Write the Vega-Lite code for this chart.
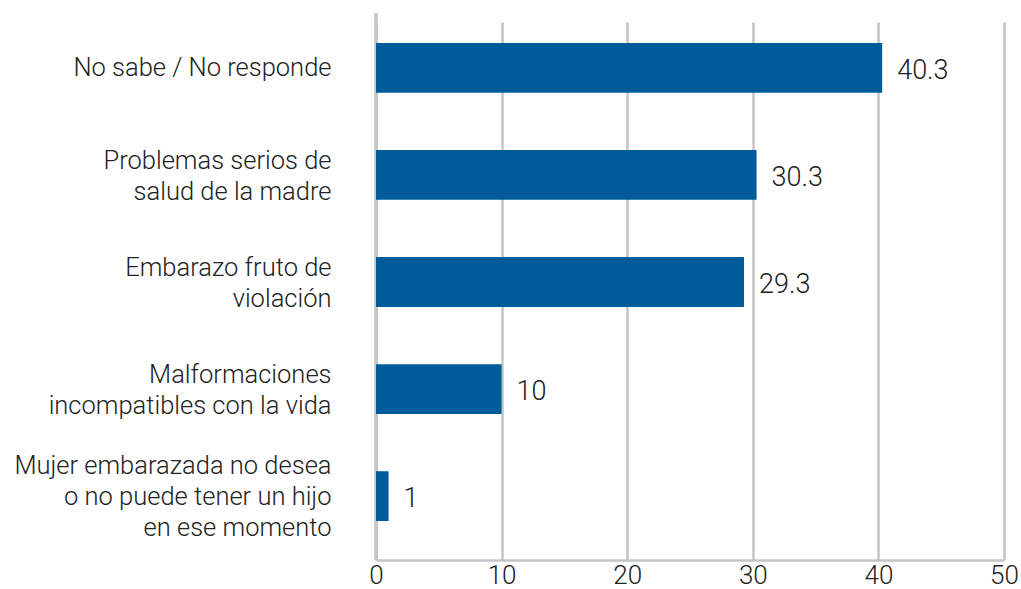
{
  "$schema": "https://vega.github.io/schema/vega-lite/v6.json",
  "autosize": "none",
  "width": 628,
  "height": 547,
  "padding": {"left": 376, "top": 13, "right": 17, "bottom": 29},
  "background": "white",
  "config": {
    "view": {"stroke": null},
    "font": "Roboto",
    "text": {"font": "Roboto"}
  },
  "data": {
    "values": [
      {"categoria": "No sabe / No responde", "valor": 40.3},
      {"categoria": "Problemas serios de|salud de la madre", "valor": 30.3},
      {"categoria": "Embarazo fruto de|violación", "valor": 29.3},
      {"categoria": "Malformaciones|incompatibles con la vida", "valor": 10},
      {"categoria": "Mujer embarazada no desea|o no puede tener un hijo|en ese momento", "valor": 1}
    ]
  },
  "encoding": {
    "y": {
      "field": "categoria",
      "type": "nominal",
      "sort": null,
      "scale": {"paddingInner": 0.535, "paddingOuter": 0.28, "range": [0, 538]},
      "axis": {
        "title": null,
        "domain": false,
        "ticks": false,
        "labelExpr": "split(datum.label, '|')",
        "labelPadding": 45,
        "labelFontSize": 25.5,
        "labelFontWeight": 300,
        "labelColor": "#222222",
        "labelLineHeight": 31,
        "labelBaseline": "middle",
        "labelOffset": {
          "condition": [
            {"test": "length(split(datum.value, '|')) == 3", "value": -30},
            {"test": "length(split(datum.value, '|')) == 2", "value": -14}
          ],
          "value": 0
        },
        "labelLimit": 400
      }
    },
    "x": {
      "field": "valor",
      "type": "quantitative",
      "scale": {"domain": [0, 50], "nice": false},
      "axis": {
        "title": null,
        "values": [0, 10, 20, 30, 40, 50],
        "grid": true,
        "gridColor": "#c4c4c6",
        "gridWidth": 2.5,
        "domain": true,
        "domainColor": "#c4c4c6",
        "domainWidth": 2.5,
        "ticks": false,
        "labelPadding": 2,
        "labelFontSize": 26,
        "labelFontWeight": 300,
        "labelColor": "#222222",
        "labelFlush": false
      }
    }
  },
  "layer": [
    {
      "mark": {"type": "rule", "color": "#c4c4c6", "strokeWidth": 2.5},
      "encoding": {"x": {"datum": 0}, "y": null}
    },
    {
      "mark": {"type": "bar", "color": "#005b9a"}
    },
    {
      "mark": {"type": "text", "align": "left", "baseline": "middle", "dx": 15, "dy": 3, "fontSize": 27, "fontWeight": 300, "color": "#222222"},
      "encoding": {"text": {"field": "valor", "type": "quantitative", "format": ".3~"}}
    }
  ]
}
